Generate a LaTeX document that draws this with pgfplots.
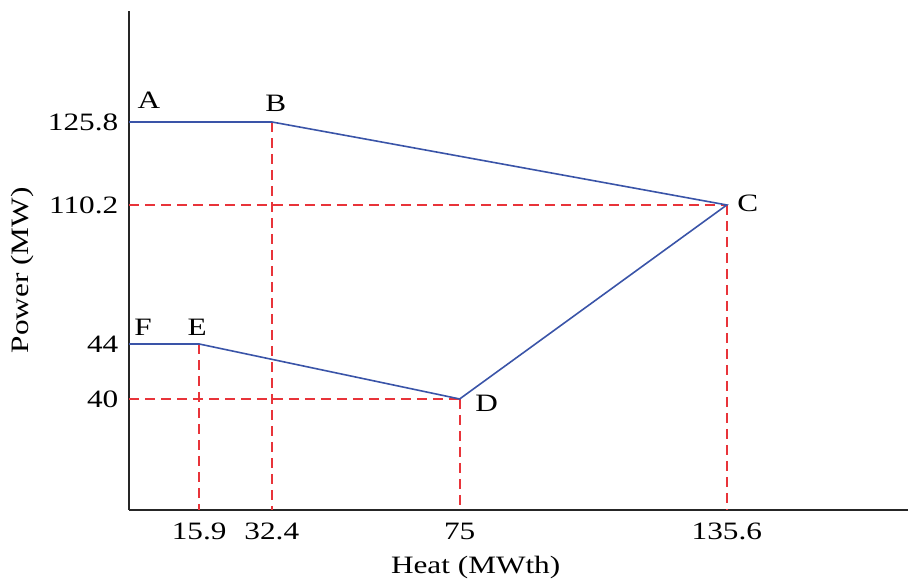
\documentclass[border=0pt]{standalone}
\usepackage{pgfplots}
\pgfplotsset{compat=1.18}
\usepackage{fontspec}
\setmainfont[FakeStretch=1.25]{Liberation Serif}
\definecolor{lineblue}{RGB}{58,84,168}
\definecolor{dashred}{RGB}{232,52,58}
\begin{document}
\fontsize{12.5}{15}\selectfont
\begin{tikzpicture}
\begin{axis}[
  scale only axis,
  width=389.5pt, height=249.5pt,
  xmin=0, xmax=176.7,
  ymin=0, ymax=146.66,
  y coord trafo/.code={\pgfmathparse{#1<=40 ? #1*2.775 : (#1<=44 ? 111+(#1-40)*13.75 : (#1<=110.2 ? 166+(#1-44)*2.0997 : 305+(#1-110.2)*5.3205))}},
  axis x line=bottom, axis y line=left,
  axis line style={-, line width=1pt, black!85},
  xtick={15.9,32.4,75,135.6},
  xticklabels={15.9,32.4,75,135.6},
  ytick={40,44,110.2,125.8},
  yticklabels={40,44,110.2,125.8},
  major tick length=0pt,
  tick label style={font=\fontsize{12.5}{15}\selectfont},
  /pgf/number format/assume math mode=true,
  xticklabel style={yshift=-2pt},
  yticklabel style={xshift=-1pt},
  xlabel={Heat (MWth)},
  ylabel={Power (MW)},
  label style={font=\fontsize{12.5}{15}\selectfont},
  xlabel style={at={(axis description cs:0.445,-0.116)}, anchor=center},
  ylabel style={at={(axis description cs:-0.137,0.48)}, anchor=center},
  clip=false,
]
% dashed guide lines
\addplot[dashred, line width=1pt, dash pattern=on 5pt off 3pt] coordinates {(0,110.2) (135.6,110.2)};
\addplot[dashred, line width=1pt, dash pattern=on 5pt off 3pt] coordinates {(0,40) (75,40)};
\addplot[dashred, line width=1pt, dash pattern=on 5pt off 3pt] coordinates {(15.9,44) (15.9,0)};
\addplot[dashred, line width=1pt, dash pattern=on 5pt off 3pt] coordinates {(32.4,125.8) (32.4,0)};
\addplot[dashred, line width=1pt, dash pattern=on 5pt off 3pt] coordinates {(75,40) (75,0)};
\addplot[dashred, line width=1pt, dash pattern=on 5pt off 3pt] coordinates {(135.6,110.2) (135.6,0)};
% operating region
\addplot[lineblue, line width=0.8pt] coordinates {
  (0,125.8) (32.4,125.8) (135.6,110.2) (75,40) (15.9,44) (0,44)
};
\node[shift={(10pt,11pt)}] at (axis cs:0,125.8) {A};
\node[shift={(2pt,9.5pt)}] at (axis cs:32.4,125.8) {B};
\node[shift={(10.5pt,1pt)}] at (axis cs:135.6,110.2) {C};
\node[shift={(13.5pt,-2pt)}] at (axis cs:75,40) {D};
\node[shift={(-1pt,8.5pt)}] at (axis cs:15.9,44) {E};
\node[shift={(7pt,8.5pt)}] at (axis cs:0,44) {F};
\path (rel axis cs:-0.1656,-0.1443) rectangle (rel axis cs:1.0026,1.022);
\end{axis}
\end{tikzpicture}
\end{document}
